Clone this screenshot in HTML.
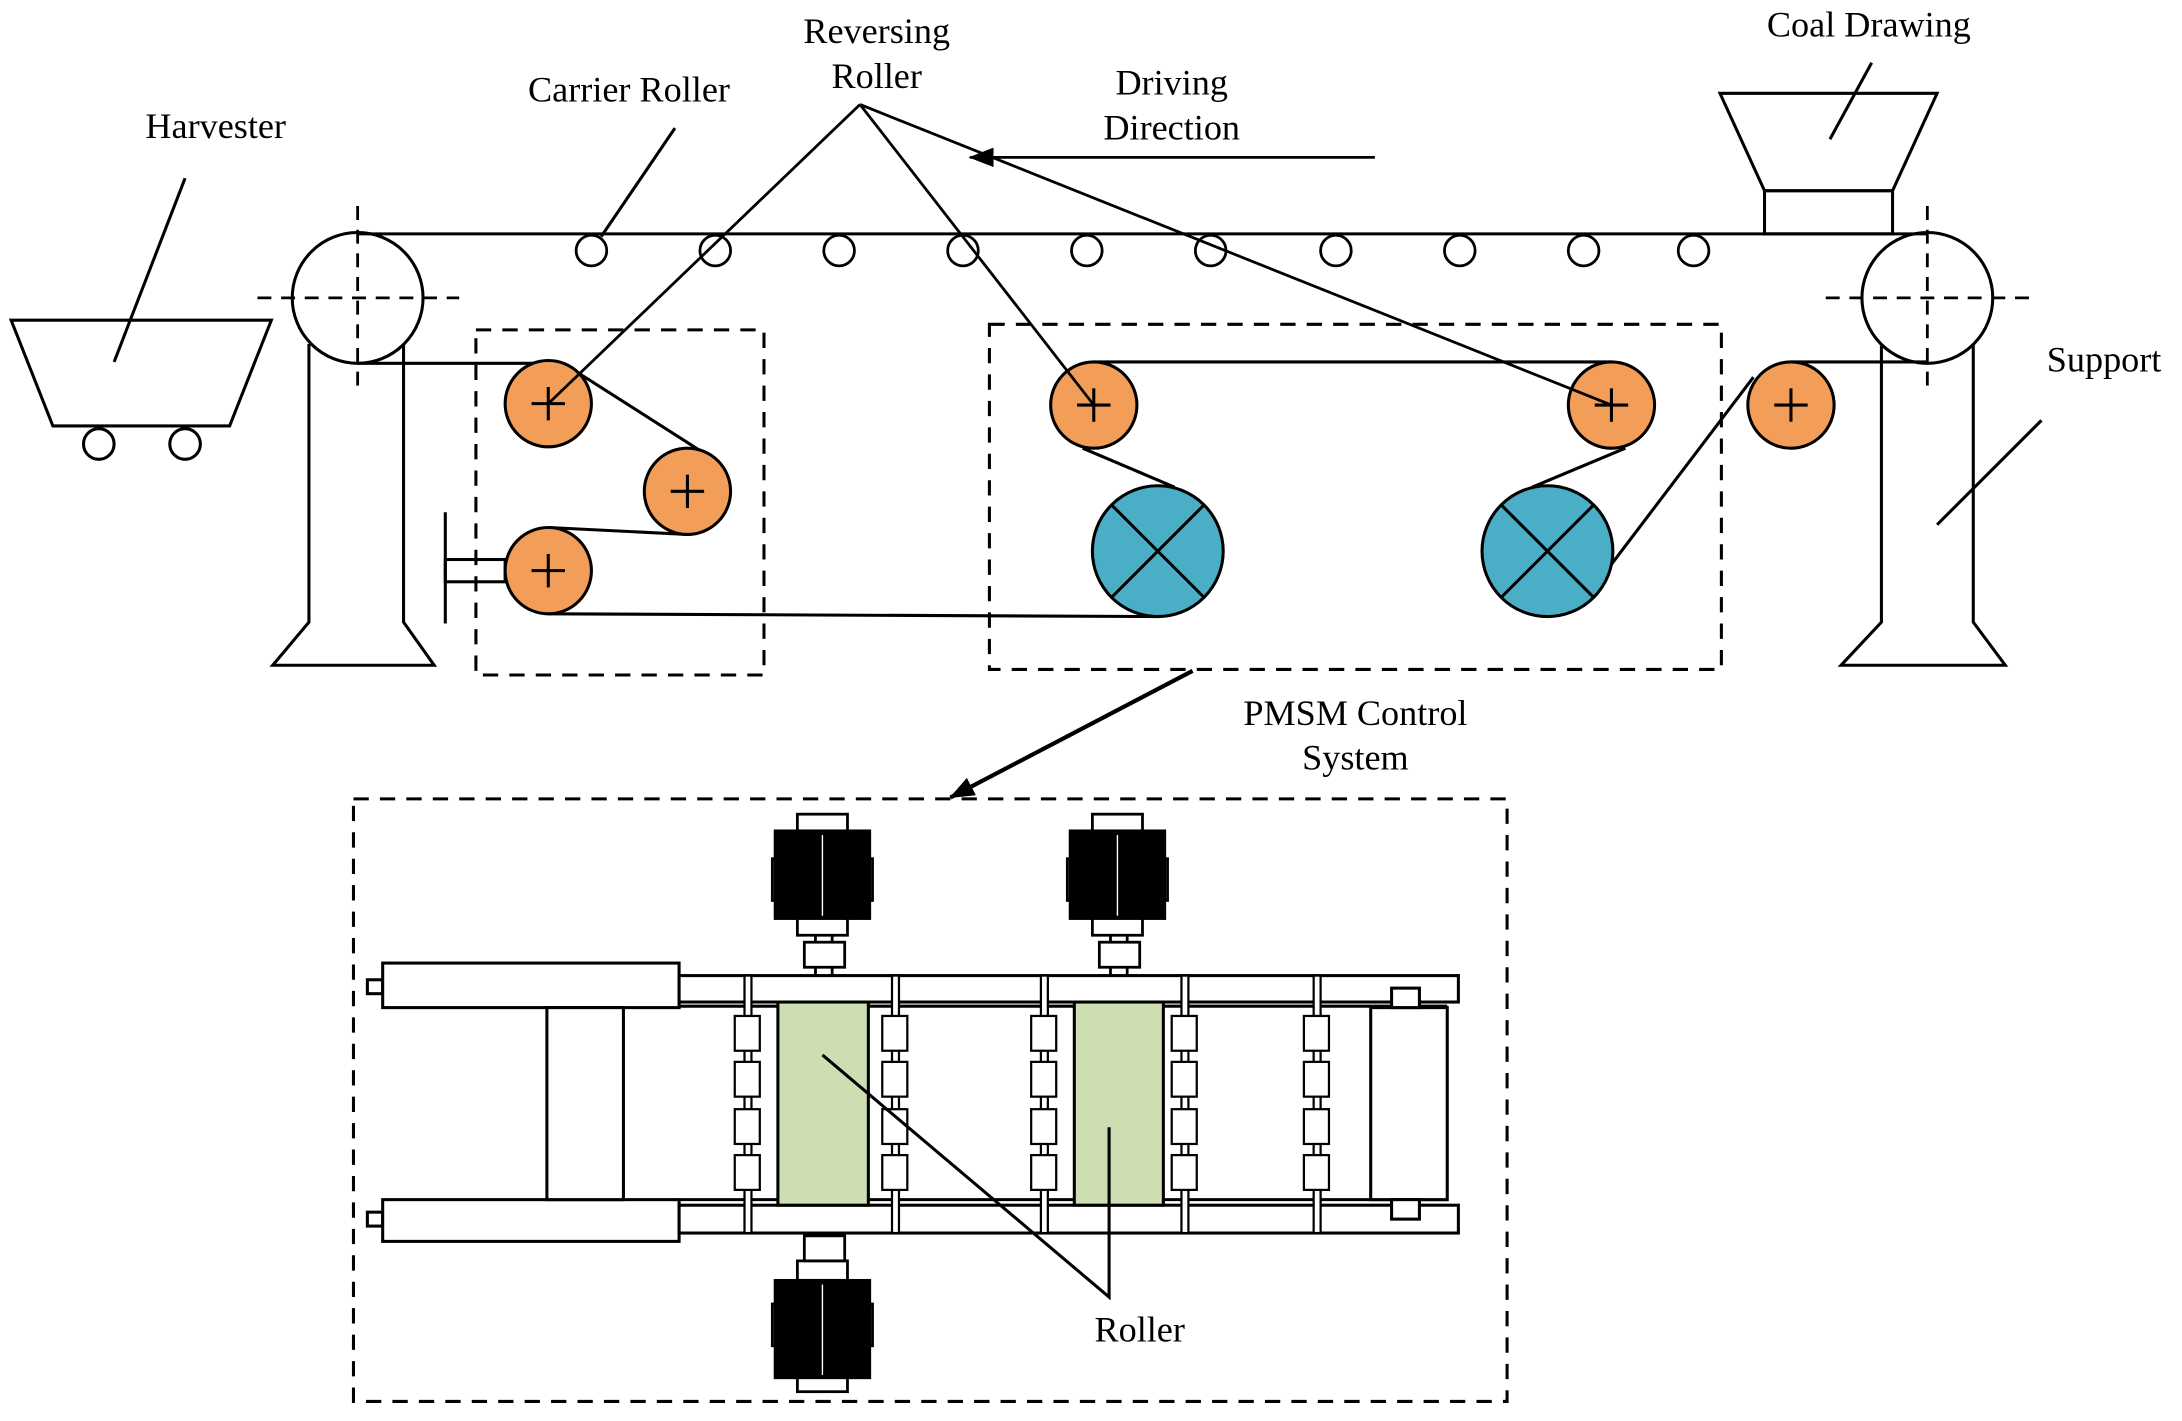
<!DOCTYPE html>
<html><head><meta charset="utf-8"><style>html,body{margin:0;padding:0;background:#fff}svg{display:block}</style></head>
<body>
<svg width="2182" height="1421" viewBox="0 0 1568 1021" xmlns="http://www.w3.org/2000/svg">
<defs>
<marker id="ah2" markerWidth="18" markerHeight="14" refX="17" refY="7" orient="auto" markerUnits="userSpaceOnUse">
<path d="M0,0 L18,7 L0,14 z" fill="#000"/></marker>
</defs>
<g font-family="'Liberation Serif', serif" font-size="26" text-anchor="middle" fill="#000">
<text x="155" y="99">Harvester</text>
<text x="452" y="73">Carrier Roller</text>
<text x="630" y="31">Reversing</text>
<text x="630" y="63">Roller</text>
<text x="842" y="68">Driving</text>
<text x="842" y="100">Direction</text>
<text x="1343" y="26">Coal Drawing</text>
<text x="1512" y="267">Support</text>
<text x="974" y="521">PMSM Control</text>
<text x="974" y="553">System</text>
<text x="819" y="964">Roller</text>
</g>
<g fill="none" stroke="#000" stroke-width="2.2">
<path d="M8,230 L195,230 L165,306 L38,306 Z"/>
<circle cx="71" cy="319" r="11"/><circle cx="133" cy="319" r="11"/>
<line x1="133" y1="128" x2="82" y2="260"/>
<path d="M1236,67 L1392,67 L1360,137 L1268,137 Z"/>
<rect x="1268" y="137" width="92" height="31"/>
<line x1="1345" y1="45" x2="1315" y2="100"/>
<line x1="1467" y1="302" x2="1392" y2="377"/>
<line x1="485" y1="92" x2="432" y2="170"/>
<line x1="257" y1="168" x2="1385" y2="168"/>
<line x1="257" y1="261" x2="394" y2="261"/>
<line x1="786" y1="260" x2="1158" y2="260"/>
<line x1="411" y1="265" x2="516" y2="332"/>
<line x1="394" y1="379" x2="494" y2="384"/>
<line x1="394" y1="441" x2="832" y2="443"/>
<line x1="778" y1="322" x2="844" y2="350"/>
<line x1="1168" y1="322" x2="1101" y2="350"/>
<line x1="1153" y1="412" x2="1260" y2="271"/>
<line x1="1287" y1="260" x2="1385" y2="260"/>
<circle cx="257" cy="214" r="47"/><circle cx="1385" cy="214" r="47"/>
<g stroke-dasharray="10,7" stroke-width="2">
<line x1="185" y1="214" x2="330" y2="214"/><line x1="257" y1="148" x2="257" y2="280"/>
<line x1="1312" y1="214" x2="1460" y2="214"/><line x1="1385" y1="148" x2="1385" y2="280"/>
</g>
<g stroke-width="2">
<circle cx="425" cy="180" r="11"/><circle cx="514" cy="180" r="11"/><circle cx="603" cy="180" r="11"/><circle cx="692" cy="180" r="11"/><circle cx="781" cy="180" r="11"/><circle cx="870" cy="180" r="11"/><circle cx="960" cy="180" r="11"/><circle cx="1049" cy="180" r="11"/><circle cx="1138" cy="180" r="11"/><circle cx="1217" cy="180" r="11"/>
</g>
<path d="M222,247 L222,447 L196,478 L312,478 L290,447 L290,247"/>
<path d="M1352,247 L1352,447 L1323,478 L1441,478 L1418,447 L1418,247"/>
<line x1="320" y1="368" x2="320" y2="448"/>
<rect x="320" y="402" width="43" height="16"/>
<g stroke-dasharray="11,8">
<rect x="342" y="237" width="207" height="248"/>
<rect x="711" y="233" width="526" height="248"/>
<rect x="254" y="574" width="829" height="433"/>
</g>
</g>
<g stroke="#000" stroke-width="2.2" fill="#F29E58">
<circle cx="394" cy="290" r="31"/><circle cx="494" cy="353" r="31"/><circle cx="394" cy="410" r="31"/>
<circle cx="786" cy="291" r="31"/><circle cx="1158" cy="291" r="31"/><circle cx="1287" cy="291" r="31"/>
</g>
<g stroke="#000" stroke-width="2.2">
<path d="M382,290h24M394,278v24M482,353h24M494,341v24M382,410h24M394,398v24M774,291h24M786,279v24M1146,291h24M1158,279v24M1275,291h24M1287,279v24"/>
</g>
<g stroke="#000" stroke-width="2.2">
<circle cx="832" cy="396" r="47" fill="#4AAFC6"/><circle cx="1112" cy="396" r="47" fill="#4AAFC6"/>
<path d="M799,363L865,429M865,363L799,429M1079,363L1145,429M1145,363L1079,429"/>
</g>
<g stroke="#000" stroke-width="2" fill="none">
<line x1="618" y1="75" x2="394" y2="290"/>
<line x1="618" y1="75" x2="786" y2="291"/>
<line x1="618" y1="75" x2="1158" y2="291"/>
<line x1="988" y1="113" x2="697" y2="113" marker-end="url(#ah2)"/>
<line x1="857" y1="482" x2="683" y2="573" stroke-width="3" marker-end="url(#ah2)"/>
</g>
<g stroke="#000" stroke-width="2.2" fill="#fff">
<rect x="264" y="704" width="11" height="10"/>
<rect x="275" y="692" width="213" height="32"/>
<rect x="264" y="871" width="11" height="10"/>
<rect x="275" y="862" width="213" height="30"/>
<rect x="488" y="701" width="560" height="19"/>
<line x1="488" y1="723" x2="1040" y2="723"/>
<rect x="488" y="866" width="560" height="20"/>
<line x1="488" y1="862" x2="1040" y2="862"/>
<rect x="393" y="724" width="55" height="138"/>
<rect x="985" y="724" width="55" height="138"/>
<rect x="1000" y="710" width="20" height="14"/>
<rect x="1000" y="862" width="20" height="14"/>
<rect x="559" y="720" width="65" height="146" fill="#CDDEB3"/>
<rect x="772" y="720" width="64" height="146" fill="#CDDEB3"/>
</g>
<g stroke="#000" stroke-width="1.6" fill="#fff">
<g id="col"><rect x="535" y="701" width="5" height="185"/>
<rect x="528" y="730" width="18" height="25"/><rect x="528" y="763" width="18" height="25"/><rect x="528" y="797" width="18" height="25"/><rect x="528" y="830" width="18" height="25"/></g>
<use href="#col" x="106"/><use href="#col" x="213"/><use href="#col" x="314"/><use href="#col" x="409"/>
</g>
<g id="mot" stroke="#000" stroke-width="2">
<rect x="573" y="585" width="36" height="12" fill="#fff"/>
<rect x="555" y="617" width="6" height="30" fill="#fff"/><rect x="621" y="617" width="6" height="30" fill="#fff"/>
<rect x="557" y="597" width="68" height="63" fill="#000"/>
<line x1="591" y1="600" x2="591" y2="658" stroke="#fff" stroke-width="1"/>
<rect x="573" y="660" width="36" height="12" fill="#fff"/>
<rect x="578" y="677" width="29" height="18" fill="#fff"/>
<path d="M586,672v5M598,672v5M586,695v6M598,695v6" fill="none"/>
</g>
<use href="#mot" x="212"/>
<g stroke="#000" stroke-width="2">
<rect x="573" y="906" width="36" height="14" fill="#fff"/>
<rect x="555" y="937" width="6" height="30" fill="#fff"/><rect x="621" y="937" width="6" height="30" fill="#fff"/>
<rect x="557" y="920" width="68" height="70" fill="#000"/>
<line x1="591" y1="923" x2="591" y2="988" stroke="#fff" stroke-width="1"/>
<rect x="573" y="990" width="36" height="10" fill="#fff"/>
<rect x="578" y="888" width="29" height="18" fill="#fff"/>
<path d="M586,886v2M598,886v2" fill="none"/>
</g>
<g stroke="#000" stroke-width="2.2" fill="none">
<path d="M591,758 L797,932 L797,810"/>
</g>
</svg>
</body></html>
